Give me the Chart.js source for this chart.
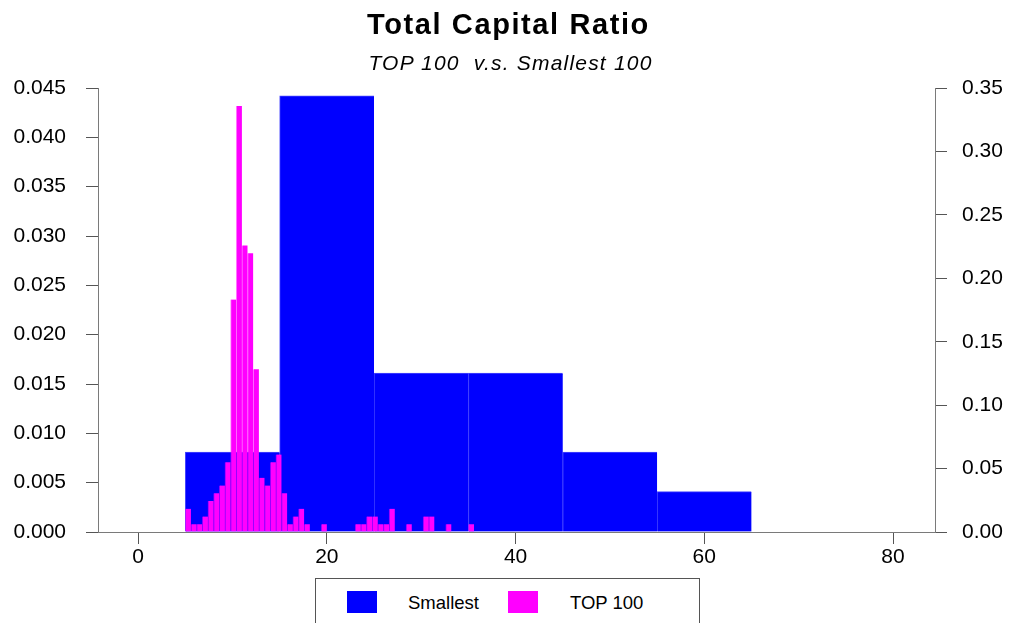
<!DOCTYPE html>
<html>
<head>
<meta charset="utf-8">
<title>Total Capital Ratio</title>
<script src="https://cdn.jsdelivr.net/npm/chart.js@4/dist/chart.umd.min.js"></script>
<style>
  html, body { margin: 0; padding: 0; background: #fff; }
  #wrap { position: relative; width: 1012px; height: 623px; overflow: hidden;
          font-family: "Liberation Sans", Arial, Helvetica, sans-serif; color: #000; }
  #chart { position: absolute; left: 0; top: 0; }
  .head { position: absolute; left: 0; width: 1012px; text-align: center; white-space: pre; box-sizing: border-box; }
  #title { top: 10px; font-size: 29px; line-height: 29px; font-weight: bold; letter-spacing: 1.6px; padding-left: 5px; }
  #subtitle { top: 52px; font-size: 21px; line-height: 21px; font-style: italic; letter-spacing: 1.2px; padding-left: 9px; }
  #legend { position: absolute; left: 315px; top: 578px; width: 385px; height: 60px;
            border: 1px solid #555; box-sizing: border-box; background: #fff; }
  .swatch { position: absolute; top: 12px; width: 30px; height: 22px; }
  .label { position: absolute; top: 15px; font-size: 18.5px; line-height: 18.5px; white-space: nowrap; }
</style>
</head>
<body>
<div id="wrap">
  <canvas id="chart" width="1012" height="623"></canvas>
  <div id="title" class="head">Total Capital Ratio</div>
  <div id="subtitle" class="head">TOP 100  v.s. Smallest 100</div>
  <div id="legend">
    <div class="swatch" style="left:31px;background:#0000ff"></div>
    <div class="label" style="left:92px">Smallest</div>
    <div class="swatch" style="left:192px;background:#ff00ff"></div>
    <div class="label" style="left:254px">TOP 100</div>
  </div>
</div>
<script>
// Axis tick values
const xTickValues = [0, 20, 40, 60, 80];
const leftTickValues = [0, 0.005, 0.010, 0.015, 0.020, 0.025, 0.030, 0.035, 0.040, 0.045];
const rightTickValues = [0, 0.05, 0.10, 0.15, 0.20, 0.25, 0.30, 0.35];

// Smallest 100 banks: histogram, bins 10 wide (density, left axis)
const smallestBinCenters = [10, 20, 30, 40, 50, 60];
const smallestDensity = [0.0081, 0.0442, 0.0161, 0.0161, 0.0081, 0.0041];

// TOP 100 banks: histogram, bins 0.6 wide (density, right axis)
const top100BinCenters = [
  5.3, 5.9, 6.5, 7.1, 7.7, 8.3, 8.9, 9.5, 10.1, 10.7,
  11.3, 11.9, 12.5, 13.1, 13.7, 14.3, 14.9, 15.5, 16.1, 16.7,
  17.3, 17.9, 18.5, 19.1, 19.7, 20.3, 20.9, 21.5, 22.1, 22.7,
  23.3, 23.9, 24.5, 25.1, 25.7, 26.3, 26.9, 27.5, 28.1, 28.7,
  29.3, 29.9, 30.5, 31.1, 31.7, 32.3, 32.9, 33.5, 34.1, 34.7,
  35.3
];
const top100Density = [
  0.0183, 0.0061, 0.0061, 0.0122, 0.0244, 0.0305, 0.0366, 0.0549, 0.1832, 0.3358,
  0.2259, 0.2198, 0.1282, 0.0427, 0.0366, 0.0549, 0.0611, 0.0305, 0.0061, 0.0122,
  0.0183, 0.0061, 0, 0, 0.0061, 0, 0, 0, 0, 0,
  0.0061, 0.0061, 0.0122, 0.0122, 0.0061, 0.0061, 0.0183, 0, 0, 0.0061,
  0, 0, 0.0122, 0.0122, 0, 0, 0.0061, 0, 0, 0,
  0.0061
];

const X_MIN = -4.25, X_MAX = 84.45;
const FONT = '"Liberation Sans", Arial, Helvetica, sans-serif';
const tickFont = { family: FONT, size: 21 };

const fixedTicks = (values) => (scale) => { scale.ticks = values.map(v => ({ value: v })); };
const tickGrid = () => ({ display: true, drawOnChartArea: false, drawTicks: true,
                          tickLength: 12, tickColor: '#555', color: '#555', offset: false });
const axisBorder = () => ({ display: true, color: '#7a7a7a', width: 1 });

const toPoints = (xs, ys) => xs.map((x, i) => ({ x: x, y: ys[i] }));

new Chart(document.getElementById('chart'), {
  type: 'bar',
  data: {
    datasets: [
      {
        label: 'Smallest',
        data: toPoints(smallestBinCenters, smallestDensity),
        xAxisID: 'x', yAxisID: 'y',
        backgroundColor: '#0000ff',
        borderColor: 'rgba(0,0,255,0.72)',
        borderWidth: { left: 1, top: 1, right: 0, bottom: 0 },
        borderSkipped: 'start',
        barPercentage: 1, categoryPercentage: 1, grouped: false,
        order: 1
      },
      {
        label: 'TOP 100',
        data: toPoints(top100BinCenters, top100Density),
        xAxisID: 'x2', yAxisID: 'y1',
        backgroundColor: '#ff00ff',
        borderColor: 'rgba(255,0,255,0.5)',
        borderWidth: { left: 1, top: 0, right: 0, bottom: 0 },
        borderSkipped: 'start',
        barPercentage: 1, categoryPercentage: 1, grouped: false,
        order: 0
      }
    ]
  },
  options: {
    responsive: false,
    animation: false,
    devicePixelRatio: 1,
    layout: { padding: { top: 88, left: 0, right: 0, bottom: 0 } },
    plugins: { legend: { display: false }, title: { display: false }, tooltip: { enabled: false } },
    scales: {
      x: {
        type: 'linear', position: 'bottom', min: X_MIN, max: X_MAX, offset: false,
        grid: tickGrid(), border: axisBorder(),
        ticks: { font: tickFont, color: '#000', padding: 1, maxRotation: 0, autoSkip: false,
                 callback: (v) => String(v) },
        afterBuildTicks: fixedTicks(xTickValues),
        afterFit: (s) => { s.height = 91; }
      },
      x2: {
        type: 'linear', position: 'bottom', display: false, min: X_MIN, max: X_MAX, offset: false,
        afterBuildTicks: fixedTicks(xTickValues)
      },
      y: {
        type: 'linear', position: 'left', min: 0, max: 0.045,
        grid: tickGrid(), border: axisBorder(),
        ticks: { font: tickFont, color: '#000', padding: 20, autoSkip: false,
                 callback: (v) => Number(v).toFixed(3) },
        afterBuildTicks: fixedTicks(leftTickValues),
        afterFit: (s) => { s.width = 98; }
      },
      y1: {
        type: 'linear', position: 'right', min: 0, max: 0.35,
        grid: tickGrid(), border: axisBorder(),
        ticks: { font: tickFont, color: '#000', padding: 15, autoSkip: false,
                 callback: (v) => Number(v).toFixed(2) },
        afterBuildTicks: fixedTicks(rightTickValues),
        afterFit: (s) => { s.width = 77; }
      }
    }
  }
});
</script>
</body>
</html>
